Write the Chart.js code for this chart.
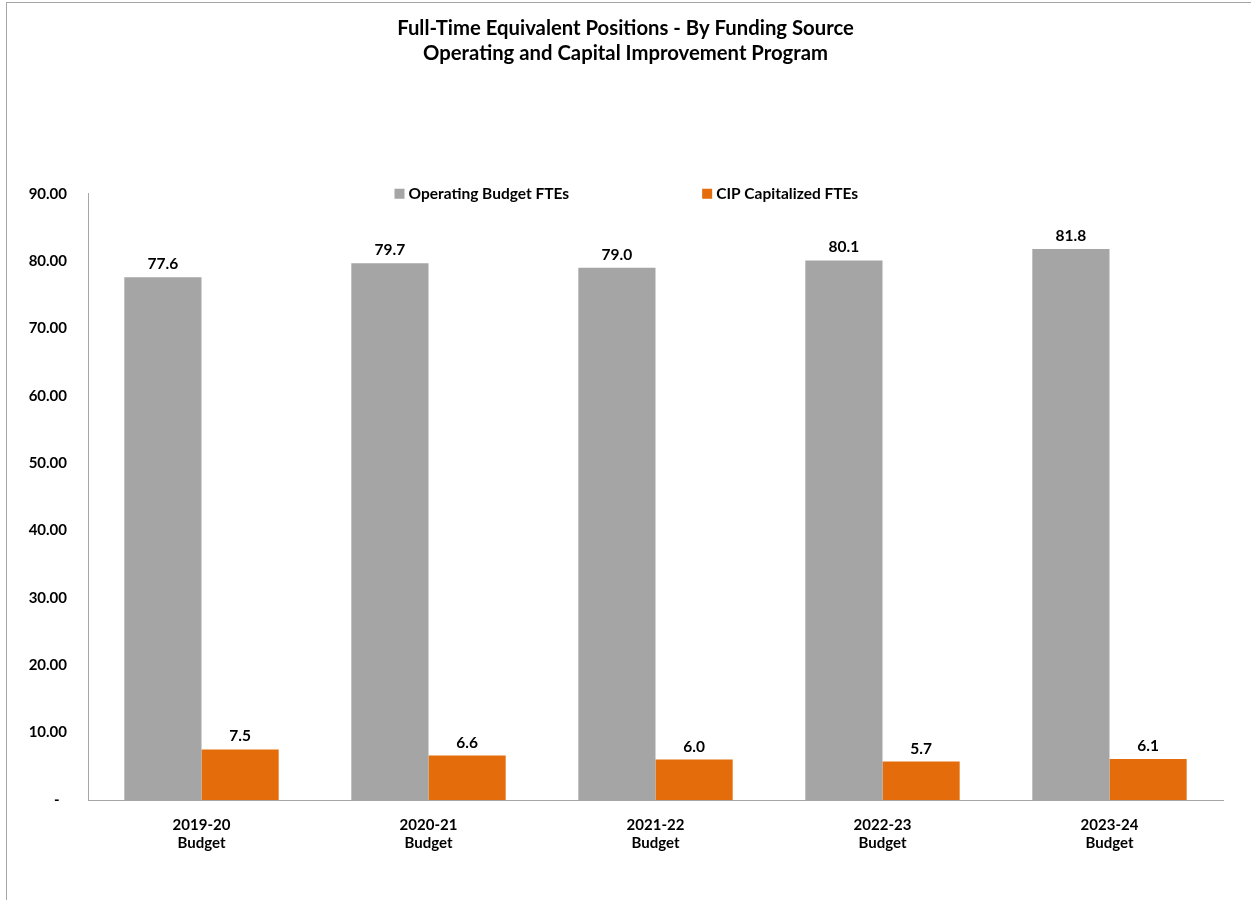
<!DOCTYPE html>
<html>
<head>
<meta charset="utf-8">
<script src="https://cdn.jsdelivr.net/npm/chart.js@4/dist/chart.umd.min.js"></script>
<style>
  html, body { margin: 0; padding: 0; background: #fff; overflow: hidden; }
  #frame {
    position: absolute; left: 6px; top: 2px; width: 1400px; height: 1000px;
    border-left: 1px solid #a6a6a6; border-top: 1px solid #a6a6a6;
    pointer-events: none;
  }
  #wrap { position: absolute; left: 0; top: 0; width: 1251px; height: 900px; }
</style>
</head>
<body>
<div id="wrap"><canvas id="fteChart"></canvas></div>
<div id="frame"></div>
<script>
'use strict';

// Chart data
const years = [['2019-20', 'Budget'], ['2020-21', 'Budget'], ['2021-22', 'Budget'], ['2022-23', 'Budget'], ['2023-24', 'Budget']];
const operatingFtes = [77.6, 79.7, 79.0, 80.1, 81.8];
const cipFtes = [7.5, 6.6, 6.0, 5.7, 6.1];
const yTicks = [0, 10, 20, 30, 40, 50, 60, 70, 80, 90];

const FONT = 'Lato, "Open Sans", sans-serif';
const GRAY = '#a5a5a5';
const ORANGE = '#e46c0a';
const AXIS = '#a6a6a6';

// Value labels above each bar
const barLabels = {
  id: 'barLabels',
  afterDatasetsDraw(chart) {
    const ctx = chart.ctx;
    ctx.save();
    ctx.font = 'bold 15.5px ' + FONT;
    ctx.fillStyle = '#000';
    ctx.textAlign = 'center';
    ctx.textBaseline = 'middle';
    chart.data.datasets.forEach((ds, i) => {
      chart.getDatasetMeta(i).data.forEach((bar, j) => {
        ctx.fillText(ds.data[j].toFixed(1), bar.x, bar.y - 13);
      });
    });
    ctx.restore();
  },
};

// Legend drawn inside the plot, near the top, with wide spacing
const insideLegend = {
  id: 'insideLegend',
  afterDraw(chart) {
    const ctx = chart.ctx;
    const y = chart.chartArea.top;
    let x = chart.width / 2 - 231;
    ctx.save();
    ctx.font = 'bold 15.5px ' + FONT;
    ctx.textBaseline = 'middle';
    ctx.textAlign = 'left';
    chart.data.datasets.forEach(ds => {
      ctx.fillStyle = ds.backgroundColor;
      ctx.fillRect(x, y - 5, 10, 10);
      ctx.fillStyle = '#000';
      ctx.fillText(ds.label, x + 14, y);
      x += 14 + ctx.measureText(ds.label).width + 133;
    });
    ctx.restore();
  },
};

const ctx = document.getElementById('fteChart').getContext('2d');
new Chart(ctx, {
  type: 'bar',
  data: {
    labels: years,
    datasets: [
      {
        label: 'Operating Budget FTEs',
        data: operatingFtes,
        backgroundColor: GRAY,
        categoryPercentage: 0.68,
        barPercentage: 1.0,
      },
      {
        label: 'CIP Capitalized FTEs',
        data: cipFtes,
        backgroundColor: ORANGE,
        categoryPercentage: 0.68,
        barPercentage: 1.0,
      },
    ],
  },
  options: {
    responsive: true,
    maintainAspectRatio: false,
    animation: false,
    layout: { padding: { left: 28, right: 28, top: 0, bottom: 0 } },
    plugins: {
      legend: { display: false },
      tooltip: { enabled: false },
      title: {
        display: true,
        text: ['Full-Time Equivalent Positions - By Funding Source', 'Operating and Capital Improvement Program'],
        color: '#000',
        font: { family: FONT, size: 20.3, weight: 'bold', lineHeight: 1.25 },
        padding: { top: 15.5, bottom: 127.5 },
      },
    },
    scales: {
      x: {
        grid: { display: false, drawTicks: false },
        border: { display: true, color: AXIS, width: 1 },
        ticks: {
          color: '#000',
          padding: 17,
          maxRotation: 0,
          font: { family: FONT, size: 15, weight: 'bold', lineHeight: 1.15 },
        },
        afterFit(scale) { scale.height = 100; },
      },
      y: {
        min: 0,
        max: 90,
        afterBuildTicks(scale) { scale.ticks = yTicks.map(v => ({ value: v })); },
        grid: { display: false, drawTicks: false },
        border: { display: true, color: AXIS, width: 1 },
        ticks: {
          color: '#000',
          padding: 21,
          font: { family: FONT, size: 15, weight: 'bold' },
          callback: v => (v === 0 ? '-  ' : v.toFixed(2)),
        },
        afterFit(scale) { scale.width = 60; },
      },
    },
  },
  plugins: [barLabels, insideLegend],
});
</script>
</body>
</html>
